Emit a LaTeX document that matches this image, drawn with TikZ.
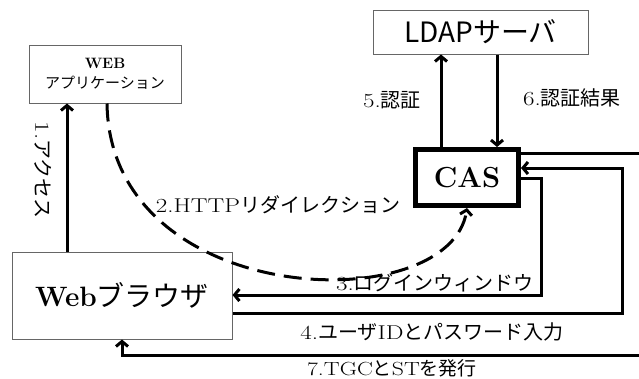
\documentclass[tikz,border=0pt]{standalone}
\usepackage{fontspec}
\newfontfamily\jp{Noto Sans CJK JP}
\newfontfamily\lat{Latin Modern Roman}[FakeStretch=1.25]
\usetikzlibrary{arrows.meta}
\newcommand\J[1]{{\jp #1}}
\begin{document}
\begin{tikzpicture}[x=1pt,y=-1pt,
  box/.style={draw=black!60,line width=1pt,inner sep=0pt,fill=white},
  arr/.style={line width=3pt,-{Straight Barb[length=5pt,width=12pt]}},
  lab/.style={inner sep=0pt,font=\lat\fontsize{20}{22}\selectfont}]
\clip (0,0) rectangle (639,378);
\fill[white] (0,0) rectangle (639,378);
\node[box,minimum width=152pt,minimum height=58pt,align=center,font=\fontsize{15}{20}\selectfont] (app) at (105,74) {\textbf{WEB}\\\J{アプリケーション}};
\node[box,minimum width=215pt,minimum height=44pt,font=\fontsize{28}{30}\selectfont\jp] (ldap) at (480.5,32) {LDAPサーバ};
\node[draw,line width=5pt,inner sep=0pt,minimum width=103pt,minimum height=56pt,font=\fontsize{29}{31}\selectfont\bfseries] (cas) at (467,177.5) {CAS};
\node[box,minimum width=220pt,minimum height=87pt,font=\fontsize{28}{30}\selectfont] (browser) at (122,295.5) {\textbf{Web}\J{ブラウザ}};
\coordinate (x1) at (67,0);
\coordinate (d1) at (107,0);
\coordinate (d2) at (467,0);
\coordinate (c3a) at (541,178);
\coordinate (c3b) at (541,295);
\coordinate (c4a) at (622,313);
\coordinate (c4b) at (622,168);
\coordinate (c7a) at (650,153);
\coordinate (c7b) at (650,355);
\coordinate (c7c) at (122,355);
\coordinate (c5) at (441,0);
\coordinate (c6) at (497,0);
\draw[arr] (browser.north -| x1) -- (app.south -| x1);
\draw[arr,dash pattern=on 18pt off 9pt] (app.south -| d1) .. controls (110,310) and (450,320) .. (cas.south -| d2);
\draw[arr] (cas.east |- c3a) -- (c3a) -- (c3b) -- (browser.east |- c3b);
\draw[arr] (browser.east |- c4a) -- (c4a) -- (c4b) -- (cas.east |- c4b);
\draw[arr] (cas.east |- c7a) -- (c7a) -- (c7b) -- (c7c) -- (browser.south -| c7c);
\draw[arr] (cas.north -| c5) -- (ldap.south -| c5);
\draw[arr] (ldap.south -| c6) -- (cas.north -| c6);
\node[lab,rotate=-90] (l1) at (43,170) {1.\J{アクセス}};
\node[lab] (l2) at (278,205) {2.HTTP\J{リダイレクション}};
\node[lab] (l3) at (435,283) {3.\J{ログインウィンドウ}};
\node[lab] (l4) at (432,332) {4.\J{ユーザ}ID\J{とパスワード入力}};
\node[lab] (l5) at (392,100) {5.\J{認証}};
\node[lab] (l6) at (572,98) {6.\J{認証結果}};
\node[lab,anchor=south,font=\lat\fontsize{19}{21}\selectfont] (l7) at (392,377) {7.TGC\J{と}ST\J{を発行}};
\end{tikzpicture}
\end{document}
